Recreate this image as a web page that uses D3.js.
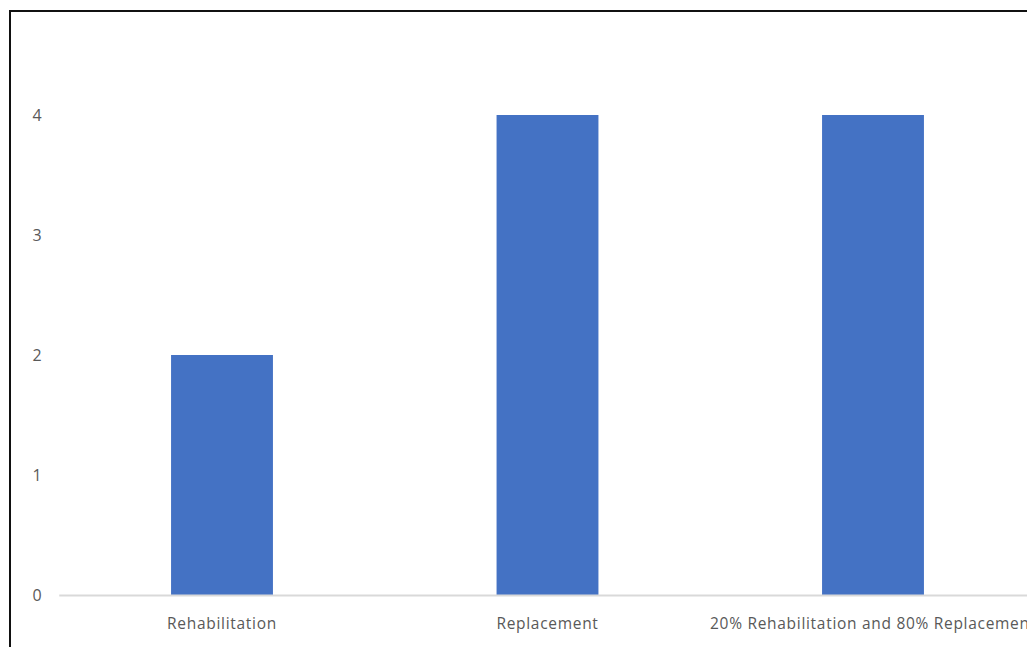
<!DOCTYPE html>
<html>
<head>
<meta charset="utf-8">
<script src="https://cdn.jsdelivr.net/npm/d3@7"></script>
<style>
  html, body { margin: 0; padding: 0; background: #fff; overflow: hidden; }
  svg { display: block; }
  text { font-family: "Open Sans", "Liberation Sans", sans-serif; fill: #595959; }
</style>
</head>
<body>
<svg id="chart" width="1027" height="647"></svg>
<script>
// Scenario categories and their values
const categories = ["Rehabilitation", "Replacement", "20% Rehabilitation and 80% Replacement"];
const values = [2, 4, 4];
const yTicks = [0, 1, 2, 3, 4];

const W = 1027, H = 647;
const svg = d3.select("#chart");

// Frame around the chart area (extends past the right and bottom edges)
svg.append("rect")
  .attr("x", 10).attr("y", 11)
  .attr("width", 1100).attr("height", 700)
  .attr("fill", "#fff")
  .attr("stroke", "#111").attr("stroke-width", 2);

const x = d3.scaleBand().domain(categories).range([59.25, 1035.75]).padding(0);
const y = d3.scaleLinear().domain([0, 4]).range([595, 115]);
const barW = x.bandwidth() * 0.313;

// Y tick labels (no axis line)
svg.append("g")
  .selectAll("text")
  .data(yTicks)
  .join("text")
  .attr("x", 37)
  .attr("y", d => y(d))
  .attr("dy", "0.35em")
  .attr("text-anchor", "middle")
  .attr("font-size", 16)
  .text(d => d);

// Bars
svg.append("g")
  .selectAll("rect")
  .data(categories)
  .join("rect")
  .attr("x", (d) => x(d) + x.bandwidth() / 2 - barW / 2)
  .attr("y", (d, i) => y(values[i]))
  .attr("width", barW)
  .attr("height", (d, i) => y(0) - y(values[i]))
  .attr("fill", "#4472C4");

// Category axis line
svg.append("line")
  .attr("x1", x.range()[0]).attr("x2", x.range()[1])
  .attr("y1", y(0) + 0.5).attr("y2", y(0) + 0.5)
  .attr("stroke", "#d9d9d9").attr("stroke-width", 2);

// Category labels
svg.append("g")
  .selectAll("text")
  .data(categories)
  .join("text")
  .attr("x", d => x(d) + x.bandwidth() / 2)
  .attr("y", 629)
  .attr("text-anchor", "middle")
  .attr("font-size", 15.5)
  .attr("letter-spacing", "0.7px")
  .text(d => d);
</script>
</body>
</html>
